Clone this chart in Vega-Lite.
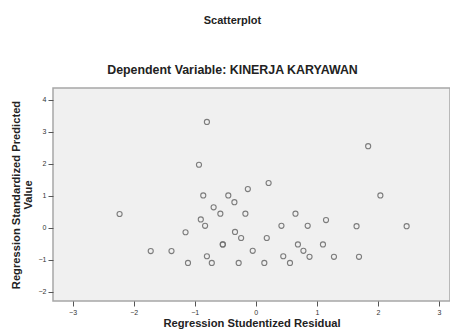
{
  "$schema": "https://vega.github.io/schema/vega-lite/v6.json",
  "autosize": "none",
  "width": 397,
  "height": 213,
  "padding": {"left": 53, "top": 88, "right": 0, "bottom": 35},
  "background": "white",
  "title": {
    "text": "Scatterplot",
    "subtitle": "Dependent Variable: KINERJA KARYAWAN",
    "anchor": "middle",
    "dx": -19,
    "offset": 12,
    "font": "Liberation Sans",
    "fontSize": 11,
    "fontWeight": "bold",
    "color": "#222",
    "subtitleFont": "Liberation Sans",
    "subtitleFontSize": 12.4,
    "subtitleFontWeight": "bold",
    "subtitleColor": "#222",
    "subtitlePadding": 38
  },
  "config": {
    "view": {"fill": "#f0f0f0", "stroke": "#a6a6a6", "strokeWidth": 1.5},
    "axis": {
      "domain": false,
      "grid": false,
      "tickColor": "#555",
      "tickSize": 5,
      "labelFont": "Liberation Sans",
      "labelFontSize": 7,
      "labelColor": "#333",
      "labelPadding": 2,
      "titleFont": "Liberation Sans",
      "titleFontSize": 11.2,
      "titleFontWeight": "bold",
      "titleColor": "#222"
    }
  },
  "data": {
    "values": [
      {"resid": -2.23, "pred": 0.43},
      {"resid": -1.72, "pred": -0.73},
      {"resid": -1.38, "pred": -0.73},
      {"resid": -1.15, "pred": -0.14},
      {"resid": -1.11, "pred": -1.10},
      {"resid": -0.80, "pred": 3.31},
      {"resid": -0.93, "pred": 1.97},
      {"resid": -0.86, "pred": 1.01},
      {"resid": -0.90, "pred": 0.26},
      {"resid": -0.83, "pred": 0.06},
      {"resid": -0.80, "pred": -0.89},
      {"resid": -0.72, "pred": -1.10},
      {"resid": -0.69, "pred": 0.64},
      {"resid": -0.58, "pred": 0.44},
      {"resid": -0.54, "pred": -0.52},
      {"resid": -0.54, "pred": -0.52},
      {"resid": -0.45, "pred": 1.01},
      {"resid": -0.35, "pred": 0.80},
      {"resid": -0.13, "pred": 1.21},
      {"resid": -0.17, "pred": 0.44},
      {"resid": -0.34, "pred": -0.13},
      {"resid": -0.24, "pred": -0.32},
      {"resid": -0.28, "pred": -1.10},
      {"resid": -0.05, "pred": -0.72},
      {"resid": 0.21, "pred": 1.40},
      {"resid": 0.18, "pred": -0.32},
      {"resid": 0.14, "pred": -1.10},
      {"resid": 0.42, "pred": 0.06},
      {"resid": 0.45, "pred": -0.89},
      {"resid": 0.56, "pred": -1.10},
      {"resid": 0.65, "pred": 0.44},
      {"resid": 0.69, "pred": -0.52},
      {"resid": 0.85, "pred": 0.06},
      {"resid": 1.15, "pred": 0.24},
      {"resid": 0.78, "pred": -0.72},
      {"resid": 0.88, "pred": -0.91},
      {"resid": 1.10, "pred": -0.52},
      {"resid": 1.28, "pred": -0.91},
      {"resid": 1.65, "pred": 0.05},
      {"resid": 1.69, "pred": -0.91},
      {"resid": 1.84, "pred": 2.55},
      {"resid": 2.04, "pred": 1.01},
      {"resid": 2.47, "pred": 0.05}
    ]
  },
  "mark": {"type": "point", "shape": "circle", "filled": false, "size": 26, "stroke": "#707070", "strokeWidth": 1.1, "opacity": 0.9},
  "encoding": {
    "x": {
      "field": "resid",
      "type": "quantitative",
      "scale": {"domain": [-3.32, 3.18], "nice": false, "zero": false},
      "axis": {"values": [-3, -2, -1, 0, 1, 2, 3], "title": "Regression Studentized Residual", "titlePadding": 2}
    },
    "y": {
      "field": "pred",
      "type": "quantitative",
      "scale": {"domain": [-2.29, 4.37], "nice": false, "zero": false},
      "axis": {"values": [-2, -1, 0, 1, 2, 3, 4], "title": ["Regression Standardized Predicted", "Value"], "titlePadding": 5, "titleLineHeight": 12}
    }
  }
}
